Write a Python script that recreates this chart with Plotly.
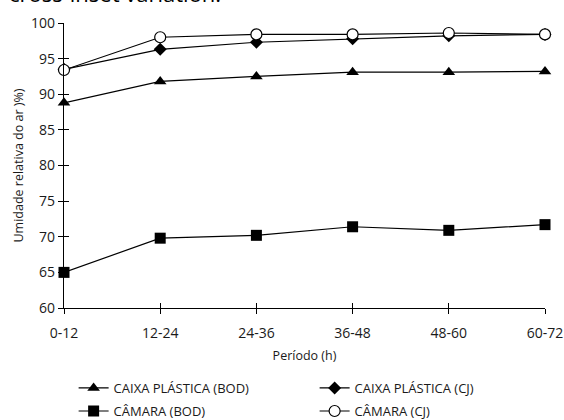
import plotly.graph_objects as go

periods = ["0-12", "12-24", "24-36", "36-48", "48-60", "60-72"]
caixa_bod = [88.8, 91.8, 92.5, 93.1, 93.1, 93.2]
caixa_cj = [93.5, 96.3, 97.3, 97.8, 98.2, 98.4]
camara_bod = [65.0, 69.8, 70.2, 71.4, 70.9, 71.7]
camara_cj = [93.4, 98.0, 98.4, 98.4, 98.6, 98.4]
y_ticks = [60, 65, 70, 75, 80, 85, 90, 95, 100]

FONT = "Open Sans"
xs = list(range(len(periods)))

series = [
    ("CAIXA PLÁSTICA (BOD)", caixa_bod, dict(symbol="triangle-up", size=11, color="black"), "legend"),
    ("CAIXA PLÁSTICA (CJ)", caixa_cj, dict(symbol="diamond", size=10, color="black"), "legend"),
    ("CÂMARA (BOD)", camara_bod, dict(symbol="square", size=11, color="black"), "legend2"),
    ("CÂMARA (CJ)", camara_cj, dict(symbol="circle", size=11, color="white",
                                    line=dict(color="black", width=1.2)), "legend2"),
]

fig = go.Figure()
for name, vals, mk, lg in series:
    fig.add_trace(go.Scatter(x=xs, y=vals, name=name, mode="lines+markers",
                             line=dict(color="black", width=1.2), marker=mk,
                             cliponaxis=False, legend=lg))
# empty trace so the overlay axes (inner half of the crossing ticks) exist
fig.add_trace(go.Scatter(x=[], y=[], xaxis="x2", yaxis="y2", showlegend=False,
                         hoverinfo="skip"))

tick_font = dict(family=FONT, size=14, color="#1a1a1a")
legend_common = dict(orientation="h", x=0.02, xanchor="left", yanchor="top",
                     entrywidth=196, entrywidthmode="pixels",
                     font=dict(family=FONT, size=13, color="#1a1a1a"),
                     bgcolor="rgba(0,0,0,0)")
fig.update_layout(
    width=564, height=420,
    margin=dict(l=64, r=19, t=23, b=112, autoexpand=False),
    paper_bgcolor="white", plot_bgcolor="white",
    font=dict(family=FONT, size=13, color="#1a1a1a"),
    xaxis=dict(range=[0, len(periods) - 1], tickvals=xs, ticktext=periods,
               showline=True, linecolor="black", linewidth=1.2,
               ticks="outside", ticklen=5, tickcolor="black", tickwidth=1.2,
               ticklabelstandoff=7,
               showgrid=False, zeroline=False, tickfont=tick_font,
               title=dict(text="Período (h)", font=dict(family=FONT, size=12.5),
                          standoff=10)),
    yaxis=dict(range=[60, 100], tickvals=y_ticks,
               showline=True, linecolor="black", linewidth=1.2,
               ticks="outside", ticklen=5, tickcolor="black", tickwidth=1.2,
               showgrid=False, zeroline=False, tickfont=tick_font,
               title=dict(text="Umidade relativa do ar )%)",
                          font=dict(family=FONT, size=12.5), standoff=4)),
    xaxis2=dict(overlaying="x", anchor="y2", range=[0, len(periods) - 1], tickvals=xs,
                ticks="inside", ticklen=5, tickcolor="black", tickwidth=1.2,
                showticklabels=False, showline=False, showgrid=False, zeroline=False),
    yaxis2=dict(overlaying="y", anchor="x2", range=[60, 100], tickvals=y_ticks,
                ticks="inside", ticklen=5, tickcolor="black", tickwidth=1.2,
                showticklabels=False, showline=False, showgrid=False, zeroline=False),
    legend=dict(y=-0.228, **legend_common),
    legend2=dict(y=-0.309, **legend_common),
    showlegend=True,
)
fig.add_annotation(text="cross-inset variation.", xref="paper", yref="paper",
                   x=-0.118, y=1, xanchor="left", yanchor="bottom", yshift=13,
                   showarrow=False, font=dict(family=FONT, size=22, color="black"))

fig.write_html("out.html", config={"displayModeBar": False},
               post_script="document.body.style.margin='0';document.body.style.overflow='hidden';")
